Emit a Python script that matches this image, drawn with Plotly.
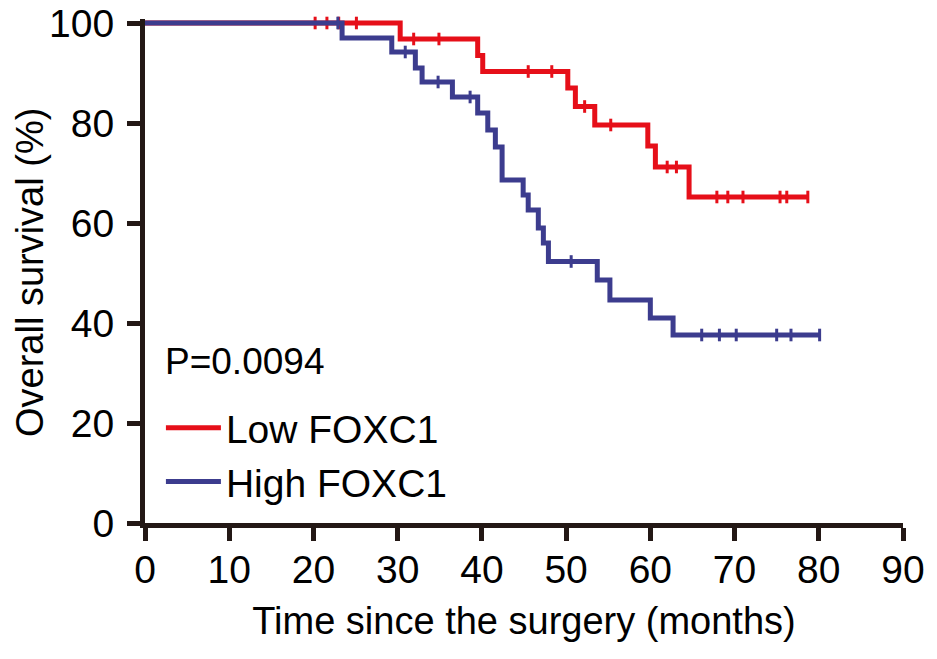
import plotly.graph_objects as go

# ---- data ----
low_event_times = [0, 30.3, 39.5, 40.1, 50.2, 51.1, 53.4, 59.7, 60.6, 64.6, 78.7]
low_survival = [100, 96.8, 93.5, 90.3, 87.0, 83.3, 79.6, 75.4, 71.2, 65.2, 65.2]
low_censor_times = [20.2, 21.6, 23.0, 25.1, 31.9, 34.9, 45.5, 48.3, 52.2, 55.3,
                    62.0, 63.1, 67.9, 69.2, 71.0, 75.4, 76.2, 78.7]
low_censor_surv = [100, 100, 100, 100, 96.8, 96.8, 90.3, 90.3, 83.3, 79.6,
                   71.2, 71.2, 65.2, 65.2, 65.2, 65.2, 65.2, 65.2]

high_event_times = [0, 23.4, 29.3, 32.1, 32.9, 36.5, 39.5, 40.7, 41.6, 42.4, 44.9,
                    45.5, 46.7, 47.3, 47.9, 53.7, 55.2, 60.0, 62.7, 80.1]
high_survival = [100, 97.0, 94.2, 91.0, 88.2, 85.2, 82.0, 78.6, 75.2, 68.6, 65.6,
                 62.6, 59.0, 56.0, 52.3, 48.6, 44.6, 41.0, 37.6, 37.6]
high_censor_times = [22.9, 30.9, 34.8, 38.6, 50.6, 66.1, 68.2, 70.2, 75.0, 76.7, 80.1]
high_censor_surv = [100, 94.2, 88.2, 85.2, 52.3, 37.6, 37.6, 37.6, 37.6, 37.6, 37.6]

series_names = ["Low FOXC1", "High FOXC1"]
x_ticks = [0, 10, 20, 30, 40, 50, 60, 70, 80, 90]
y_ticks = [0, 20, 40, 60, 80, 100]
p_value_text = "P=0.0094"
x_title = "Time since the surgery (months)"
y_title = "Overall survival (%)"

RED = "#e60f19"
BLUE = "#3c3c8e"
AXIS = "#231815"
FONT = "Liberation Sans, Arial, sans-serif"

fig = go.Figure()

for name, tx, sv, ctx, csv, col in [
    (series_names[0], low_event_times, low_survival, low_censor_times, low_censor_surv, RED),
    (series_names[1], high_event_times, high_survival, high_censor_times, high_censor_surv, BLUE),
]:
    fig.add_trace(go.Scatter(
        x=tx, y=sv, mode="lines", name=name, legendgroup=name,
        line=dict(color=col, width=5, shape="hv"),
    ))
    fig.add_trace(go.Scatter(
        x=ctx, y=csv, mode="markers", name=name, legendgroup=name, showlegend=False,
        marker=dict(symbol="line-ns", size=9, color=col, line=dict(color=col, width=3)),
        cliponaxis=False,
    ))

fig.add_annotation(
    x=0.0237, y=0.321, xref="paper", yref="paper", xanchor="left", yanchor="middle",
    text=p_value_text, showarrow=False, font=dict(family=FONT, size=37, color="black"),
)
# y-axis title as a rotated annotation (axis titles get clamped to the margin)
fig.add_annotation(
    x=-0.1517, y=0.496, xref="paper", yref="paper", xanchor="center", yanchor="middle",
    text=y_title, textangle=-90, showarrow=False,
    font=dict(family=FONT, size=38, color="black"),
)

axis_common = dict(
    showline=True, linecolor=AXIS, linewidth=5, ticks="outside", ticklen=13,
    tickwidth=5, tickcolor=AXIS, showgrid=False, zeroline=False, automargin=False,
    ticklabeloverflow="allow",
    tickfont=dict(family=FONT, size=39, color="black"),
)

fig.update_xaxes(
    range=[0, 90], tickvals=x_ticks, ticktext=[str(v) for v in x_ticks],
    ticklabelstandoff=-5,
    title=dict(text=x_title, font=dict(family=FONT, size=38, color="black"), standoff=19),
    **axis_common,
)
fig.update_yaxes(
    range=[0, 100.8], tickvals=y_ticks, ticktext=[str(v) for v in y_ticks],
    ticklabelstandoff=5,
    **axis_common,
)

fig.update_layout(
    width=937, height=659,
    margin=dict(l=145, r=34, t=19, b=136),
    paper_bgcolor="white", plot_bgcolor="white",
    font=dict(family=FONT, color="black"),
    legend=dict(
        x=0.021, y=0.135, xanchor="left", yanchor="middle",
        font=dict(family=FONT, size=39, color="black"),
        bgcolor="rgba(0,0,0,0)", tracegroupgap=0, itemwidth=55,
    ),
    showlegend=True,
)

# remove the default page margin so the figure fills the 937x659 window exactly
fig.write_html(
    "out.html",
    config={"displayModeBar": False},
    post_script="document.body.style.margin='0';",
)
